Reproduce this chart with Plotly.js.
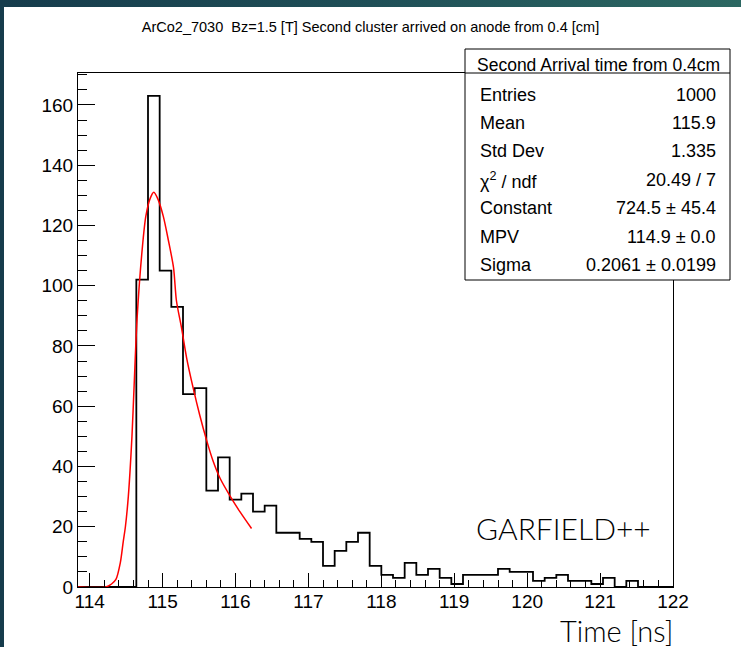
<!DOCTYPE html>
<html>
<head>
<meta charset="utf-8">
<script src="https://cdn.plot.ly/plotly-3.0.1.min.js"></script>
<style>
  html, body { margin:0; padding:0; }
  body { width:741px; height:647px; position:relative; overflow:hidden;
         background: linear-gradient(90deg, #163c4c 0%, #1f4f57 50%, #2c6862 100%); }
  #sheet { position:absolute; left:4px; top:7px; width:737px; height:640px; background:#ffffff; }
  #chart { position:absolute; left:0; top:0; width:741px; height:647px; }
</style>
</head>
<body>
<div id="sheet"></div>
<div id="chart"></div>
<script>
// ---- data ----
const binEdges = [113.84, 114.00, 114.16, 114.32, 114.48, 114.64, 114.80, 114.96, 115.12, 115.28,
  115.44, 115.60, 115.76, 115.92, 116.08, 116.24, 116.40, 116.56, 116.72, 116.88,
  117.04, 117.20, 117.36, 117.52, 117.68, 117.84, 118.00, 118.16, 118.32, 118.48,
  118.64, 118.80, 118.96, 119.12, 119.28, 119.44, 119.60, 119.76, 119.92, 120.08,
  120.24, 120.40, 120.56, 120.72, 120.88, 121.04, 121.20, 121.36, 121.52, 121.68,
  121.84, 122.00];
const counts = [0, 0, 0, 0, 0, 102, 163, 105, 93, 64,
  66, 32, 43, 29, 31, 25, 27, 18, 18, 16,
  15, 7, 12, 15, 18, 7, 4, 3, 8, 4,
  6, 3, 1, 4, 4, 4, 6, 5, 5, 2,
  3, 4, 2, 2, 1, 3, 0, 2, 0, 0, 0];
// Landau fit curve
const fitX = [113.84, 114.22, 114.30, 114.36, 114.42, 114.46, 114.49, 114.53, 114.58, 114.61,
  114.65, 114.72, 114.77, 114.83, 114.88, 114.94, 115.01, 115.08, 115.15, 115.19,
  115.26, 115.33, 115.42, 115.51, 115.60, 115.69, 115.79, 115.93, 116.06, 116.22];
const fitY = [0, 0, 1, 2.5, 8, 15, 20, 30, 50, 67,
  89, 112, 123, 129, 131, 128.5, 123, 115, 106, 95,
  86, 76, 66, 57, 49, 42, 36, 30, 25, 19.4];
const xTickVals = [114, 115, 116, 117, 118, 119, 120, 121, 122];
const yTickVals = [0, 20, 40, 60, 80, 100, 120, 140, 160];
const statsTitle = "Second Arrival time from 0.4cm";
const statLabels = ["Entries", "Mean", "Std Dev", "χ<sup>2</sup> / ndf", "Constant", "MPV", "Sigma"];
const statValues = ["1000", "115.9", "1.335", "20.49 / 7", "724.5 ± 45.4", "114.9 ± 0.0", "0.2061 ± 0.0199"];
const chartTitle = "ArCo2_7030 \u00a0Bz=1.5 [T] Second cluster arrived on anode from 0.4 [cm]";
const xTitle = "Time [ns]";
const watermark = "GARFIELD++";

// ---- geometry (pixels of the plot frame) ----
const W = 741, H = 647;
const L = 78, R = 673, T = 73, B = 587;
const px2x = p => (p - L) / (R - L);
const py2y = p => (B - p) / (B - T);

const histY = counts.concat([counts[counts.length - 1]]);

const traces = [
  { type:'scatter', mode:'lines', x: binEdges, y: histY,
    line:{ shape:'hv', color:'#000000', width:1.8 }, hoverinfo:'skip', showlegend:false },
  { type:'scatter', mode:'lines', x: fitX, y: fitY,
    line:{ shape:'spline', smoothing:0.8, color:'#ff0000', width:1.5 }, hoverinfo:'skip', showlegend:false }
];

const helv = "Liberation Sans, Arial, Helvetica, sans-serif";
const geo = "Lato, 'Noto Sans', sans-serif";

const annotations = [];
annotations.push({ xref:'paper', yref:'paper', x: px2x(598), y: py2y(65), xanchor:'center', yanchor:'middle',
  text: statsTitle, showarrow:false, font:{ family: helv, size:17.5, color:'#000' } });
const rowY = [94.7, 123, 150.8, 180, 208.3, 237.3, 265.3];
statLabels.forEach((s, i) => {
  annotations.push({ xref:'paper', yref:'paper', x: px2x(478), y: py2y(rowY[i]), xanchor:'left', yanchor:'middle',
    text: s, showarrow:false, font:{ family: helv, size:18, color:'#000' } });
  annotations.push({ xref:'paper', yref:'paper', x: px2x(718), y: py2y(rowY[i]), xanchor:'right', yanchor:'middle',
    text: statValues[i], showarrow:false, font:{ family: helv, size:18, color:'#000' } });
});
annotations.push({ xref:'paper', yref:'paper', x: px2x(563), y: py2y(527.5), xanchor:'center', yanchor:'middle',
  text: watermark, showarrow:false, font:{ family: geo, size:30, color:'#000', weight:300 } });
annotations.push({ xref:'paper', yref:'paper', x: px2x(675), y: py2y(630), xanchor:'right', yanchor:'middle',
  text: xTitle, showarrow:false, font:{ family: geo, size:29, color:'#000', weight:300 } });

const shapes = [
  { type:'rect', xref:'paper', yref:'paper', x0: px2x(465), x1: px2x(730), y0: py2y(280), y1: py2y(49),
    fillcolor:'#ffffff', line:{ color:'#000000', width:1 }, layer:'above' },
  { type:'line', xref:'paper', yref:'paper', x0: px2x(465), x1: px2x(730), y0: 1, y1: 1,
    line:{ color:'#000000', width:1 }, layer:'above' }
];

const layout = {
  width: W, height: H,
  margin: { l: L, r: W - R, t: T, b: H - B, pad: 0 },
  paper_bgcolor: 'rgba(0,0,0,0)',
  plot_bgcolor: '#ffffff',
  showlegend: false,
  title: { text: chartTitle, x: 0.5, xref:'container', y: 1 - 27/H, yref:'container', yanchor:'middle',
           font:{ family: helv, size:14.5, color:'#000' } },
  xaxis: {
    range: [113.84, 122], tickvals: xTickVals, ticktext: xTickVals.map(String),
    ticks:'inside', ticklen:14, tickwidth:1, tickcolor:'#000',
    minor:{ dtick:0.2, tick0:114, ticks:'inside', ticklen:7, tickwidth:1, tickcolor:'#000', showgrid:false },
    showline:true, linecolor:'#000', linewidth:1, mirror:true,
    showgrid:false, zeroline:false, ticklabelstandoff:-3,
    tickfont:{ family: helv, size:19, color:'#000' }
  },
  yaxis: {
    range: [0, 170.6], tickvals: yTickVals, ticktext: yTickVals.map(String),
    ticks:'inside', ticklen:17, tickwidth:1, tickcolor:'#000',
    minor:{ dtick:5, tick0:0, ticks:'inside', ticklen:9, tickwidth:1, tickcolor:'#000', showgrid:false },
    showline:true, linecolor:'#000', linewidth:1, mirror:true,
    showgrid:false, zeroline:false,
    tickfont:{ family: helv, size:19, color:'#000' }
  },
  shapes: shapes,
  annotations: annotations
};

Plotly.newPlot('chart', traces, layout, { staticPlot:true, displayModeBar:false });
</script>
</body>
</html>
